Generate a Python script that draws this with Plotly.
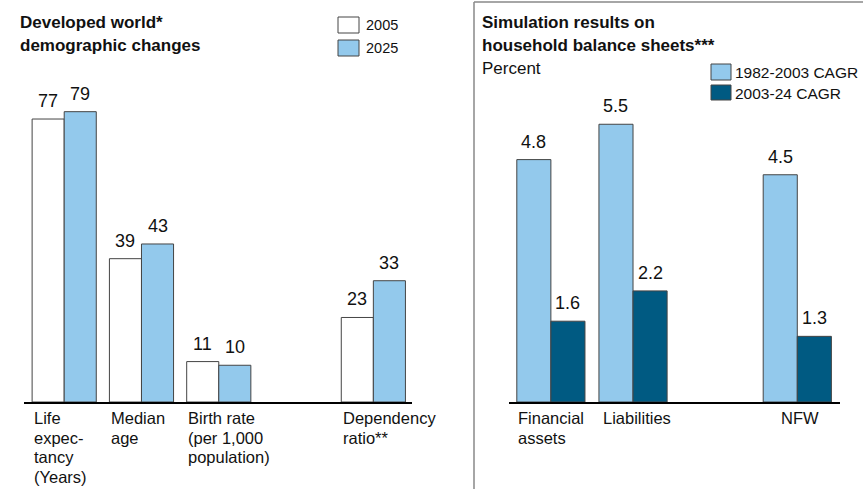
import plotly.graph_objects as go

# Left panel data
demo_cats = ["Life<br>expec-<br>tancy<br>(Years)", "Median<br>age", "Birth rate<br>(per 1,000<br>population)", "Dependency<br>ratio**"]
demo_pos = [0, 1, 2, 4]
demo_2005 = [77, 39, 11, 23]
demo_2025 = [79, 43, 10, 33]

# Right panel data
hh_cats = ["Financial<br>assets", "Liabilities", "NFW"]
hh_pos = [0, 1, 3]
hh_1982 = [4.8, 5.5, 4.5]
hh_2003 = [1.6, 2.2, 1.3]

FONT = "Liberation Sans, Arial, sans-serif"
LIGHT = "#93C9EC"
DARK = "#005A82"
W, H = 863, 489
base_y = (H - 402) / H
BARGAP = 0.17
HALF = (1 - BARGAP) / 4  # offset of each bar centre from group centre

fig = go.Figure()
fig.add_bar(x=demo_pos, y=demo_2005, marker=dict(color="white", line=dict(color="#444", width=1)),
            xaxis="x", yaxis="y")
fig.add_bar(x=demo_pos, y=demo_2025, marker=dict(color=LIGHT, line=dict(color="#444", width=1)),
            xaxis="x", yaxis="y")
fig.add_bar(x=hh_pos, y=hh_1982, marker=dict(color=LIGHT, line=dict(color="#444", width=1)),
            xaxis="x2", yaxis="y2")
fig.add_bar(x=hh_pos, y=hh_2003, marker=dict(color=DARK, line=dict(color="#444", width=1)),
            xaxis="x2", yaxis="y2")

ax_common = dict(showgrid=False, zeroline=False, showticklabels=False, ticks="",
                 showline=True, linecolor="black", linewidth=2)
fig.update_layout(
    width=W, height=H, margin=dict(l=0, r=0, t=0, b=0),
    paper_bgcolor="white", plot_bgcolor="white",
    barmode="group", bargap=BARGAP, bargroupgap=0, showlegend=False,
    font=dict(family=FONT, color="#111"),
    xaxis=dict(domain=[24 / W, 412 / W], range=[-0.52, 4.5], **ax_common),
    yaxis=dict(domain=[base_y, 1], range=[0, 402 / 3.675], visible=False),
    xaxis2=dict(domain=[509 / W, 840 / W], range=[-0.51, 3.52], anchor="y2", **ax_common),
    yaxis2=dict(domain=[base_y, 1], range=[0, 402 / 50.5], visible=False, anchor="x2"),
)

ann = []

def value_labels(xref, yref, pos, vals, side, fmt):
    for p, v in zip(pos, vals):
        ann.append(dict(x=p + side * HALF, y=v, xref=xref, yref=yref, text=fmt.format(v),
                        showarrow=False, xanchor="center", yanchor="bottom", yshift=6,
                        font=dict(size=18, color="#111")))

value_labels("x", "y", demo_pos, demo_2005, -1, "{}")
value_labels("x", "y", demo_pos, demo_2025, 1, "{}")
value_labels("x2", "y2", hh_pos, hh_1982, -1, "{:.1f}")
value_labels("x2", "y2", hh_pos, hh_2003, 1, "{:.1f}")

LS = 19.5
def cat_label(xref, x, text, anchor):
    for i, line in enumerate(text.split("<br>")):
        ann.append(dict(x=x, y=base_y, xref=xref, yref="paper", text=line, showarrow=False,
                        xanchor=anchor, yanchor="top", align="left", yshift=-5 - i * LS,
                        font=dict(size=16.5)))

for p, c in zip(demo_pos, demo_cats):
    cat_label("x", p - 0.42, c, "left")
for p, c in zip(hh_pos, hh_cats):
    if c == "NFW":
        cat_label("x2", p + 0.03, c, "center")
    else:
        cat_label("x2", p - 0.43 + (0.04 if p == 1 else 0), c, "left")

def px(x, y, text, size, bold=False, anchor="left"):
    return dict(x=x / W, y=1 - y / H, xref="paper", yref="paper", text=f"<b>{text}</b>" if bold else text,
                showarrow=False, xanchor=anchor, yanchor="middle", align="left", font=dict(size=size))

ann += [
    px(18, 23, "Developed world*", 17, True),
    px(18, 46, "demographic changes", 17, True),
    px(364, 25, "2005", 14.5),
    px(364, 48, "2025", 14.5),
    px(480, 23, "Simulation results on", 17, True),
    px(480, 46, "household balance sheets***", 17, True),
    px(480, 69, "Percent", 17),
    px(733, 72, "1982-2003 CAGR", 15.5),
    px(733, 93, "2003-24 CAGR", 15.5),
]
fig.update_layout(annotations=ann)

def box(x0, y0, x1, y1, fill):
    return dict(type="rect", xref="paper", yref="paper", x0=x0 / W, x1=x1 / W, y0=1 - y1 / H, y1=1 - y0 / H,
                fillcolor=fill, line=dict(color="#444", width=1))

shapes = [
    box(338, 17, 359, 33, "white"),
    box(338, 40, 359, 56, LIGHT),
    box(711, 64, 731, 80, LIGHT),
    box(711, 85, 731, 100, DARK),
    dict(type="line", xref="paper", yref="paper", x0=474 / W, x1=474 / W, y0=0, y1=1 - 2 / H,
         line=dict(color="#888", width=1.5)),
    dict(type="line", xref="paper", yref="paper", x0=474 / W, x1=1, y0=1 - 2 / H, y1=1 - 2 / H,
         line=dict(color="#888", width=1.5)),
]
fig.update_layout(shapes=shapes)

fig.write_html("out.html", config={"displayModeBar": False},
               post_script="document.body.style.margin='0';document.body.style.overflow='hidden';")
